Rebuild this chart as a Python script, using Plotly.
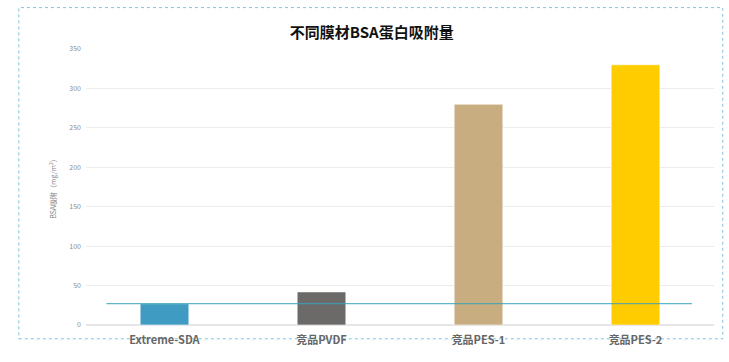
import plotly.graph_objects as go

categories = ["Extreme-SDA", "竞品PVDF", "竞品PES-1", "竞品PES-2"]
values = [27, 42, 280, 330]
bar_colors = ["#3f9bc1", "#6b6a68", "#c8ad80", "#ffcc00"]
reference_value = 27
ref_x_extent = [-0.37, 3.36]
y_ticks = [0, 50, 100, 150, 200, 250, 300, 350]

fig = go.Figure()
fig.add_trace(go.Bar(
    x=categories, y=values,
    marker=dict(color=bar_colors, line=dict(color="rgba(255,255,255,0.6)", width=1)),
    width=0.31, showlegend=False,
))
fig.add_trace(go.Scatter(
    x=[ref_x_extent[0], ref_x_extent[1]], y=[reference_value, reference_value],
    mode="lines", line=dict(color="#3aa2b8", width=1), showlegend=False,
    xaxis="x2", yaxis="y",
))

fig.update_layout(
    width=729, height=362,
    margin=dict(l=86, r=15, t=49, b=37),
    paper_bgcolor="white", plot_bgcolor="white",
    title=dict(text="<b>不同膜材BSA蛋白吸附量</b>", x=0.51, xanchor="center", y=0.91, yanchor="middle",
               font=dict(family="Noto Sans CJK SC", size=15, color="#111111")),
    font=dict(family="Noto Sans CJK SC"),
    xaxis=dict(type="category", tickfont=dict(size=11, color="#666666", family="Noto Sans CJK SC", weight="bold"),
               showline=False, showgrid=False, ticks="", range=[-0.5, 3.5], ticklabelstandoff=7),
    xaxis2=dict(overlaying="x", range=[-0.5, 3.5], visible=False),
    yaxis=dict(range=[0, 350], tickvals=y_ticks, tickfont=dict(size=7, color="#8c8c8c"),
               gridcolor="#ececec", gridwidth=1, zeroline=True, zerolinecolor="#e6e6e6",
               showline=False, ticks="", ticklabelstandoff=4,
               title=dict(text="BSA吸附（mg/m<sup>2</sup>）", font=dict(size=7, color="#7f7f7f"), standoff=11)),
    shapes=[dict(type="rect", xref="paper", yref="paper", x0=-0.107, x1=1.014, y0=-0.05, y1=1.15,
                 line=dict(color="#7cc3e0", width=1, dash="dot"), fillcolor="rgba(0,0,0,0)", layer="below")],
    bargap=0.69,
)

fig.write_html("out.html")
